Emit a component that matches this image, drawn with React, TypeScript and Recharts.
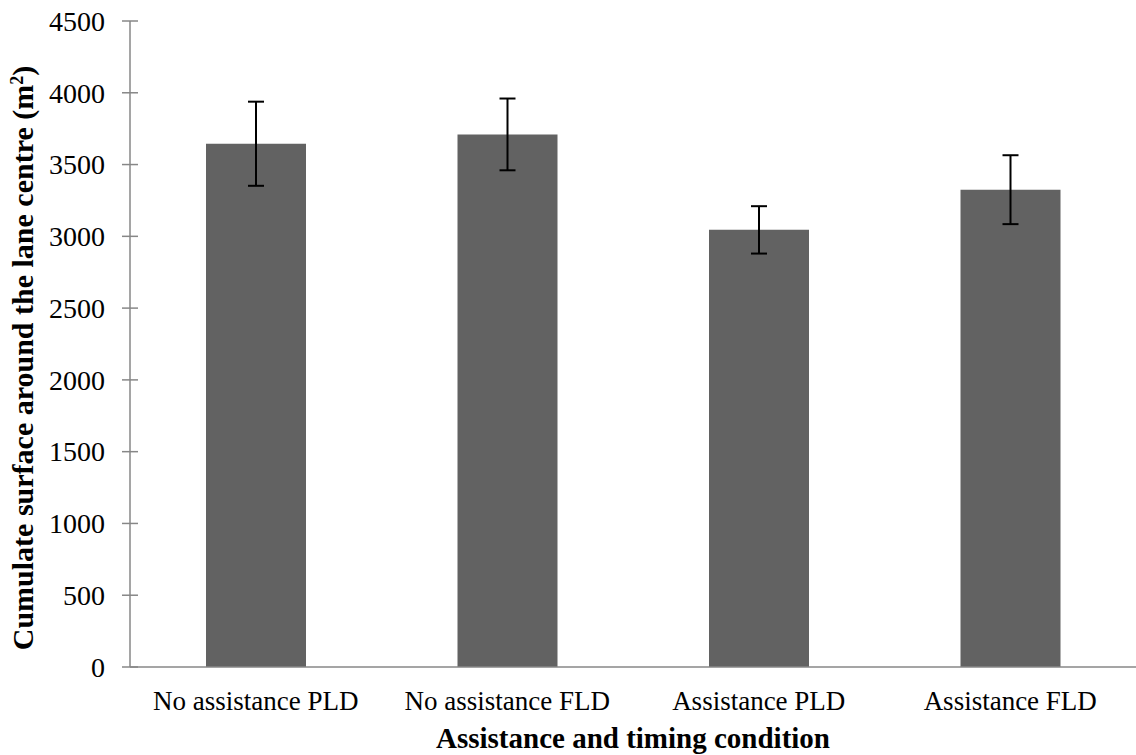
import { BarChart, Bar, XAxis, YAxis, ErrorBar, Label } from 'recharts';

const categories = ['No assistance PLD', 'No assistance FLD', 'Assistance PLD', 'Assistance FLD'];
const surfaceMeans = [3645, 3710, 3045, 3325];
const surfaceErrors = [293, 250, 165, 240];
const yTicks = [0, 500, 1000, 1500, 2000, 2500, 3000, 3500, 4000, 4500];

const data = categories.map((condition, i) => ({
  condition,
  mean: surfaceMeans[i],
  err: surfaceErrors[i],
}));

const FONT = '"Liberation Serif", "Times New Roman", serif';
const AXIS_GREY = '#878787';

// y ticks cross the axis line, like Excel's "cross" tick marks
const YTick = ({ x, y, payload }: any) => (
  <g>
    <line x1={x - 8} x2={x + 8} y1={y} y2={y} stroke={AXIS_GREY} strokeWidth={1.5} />
    <text x={x - 25} y={y} dy="0.35em" textAnchor="end" fontFamily={FONT} fontSize={28} fill="#000">
      {payload.value}
    </text>
  </g>
);

const XTick = ({ x, y, payload }: any) => (
  <text x={x} y={y} dy="0.71em" textAnchor="middle" fontFamily={FONT} fontSize={27} fill="#000">
    {payload.value}
  </text>
);

const YTitle = () => (
  <text
    transform="translate(33, 358) rotate(-90)"
    textAnchor="middle"
    fontFamily={FONT}
    fontWeight="bold"
    fontSize={30}
    fill="#000"
  >
    Cumulate surface around the lane centre (m
    <tspan dy={-10} fontSize={18}>2</tspan>
    <tspan dy={10}>)</tspan>
  </text>
);

const XTitle = () => (
  <text x={633} y={748} textAnchor="middle" fontFamily={FONT} fontWeight="bold" fontSize={29} fill="#000">
    Assistance and timing condition
  </text>
);

export default function App() {
  return (
    <div style={{ width: 1136, height: 755, background: '#fff' }}>
      <style>{'body{margin:0}'}</style>
      <BarChart
        width={1136}
        height={755}
        data={data}
        margin={{ top: 21, right: 0, left: 0, bottom: 0 }}
        barSize={100}
      >
        <XAxis
          dataKey="condition"
          height={88}
          tickLine={false}
          tickSize={0}
          tickMargin={24}
          axisLine={{ stroke: AXIS_GREY, strokeWidth: 1.5 }}
          tick={<XTick />}
          interval={0}
        >
          <Label content={<XTitle />} />
        </XAxis>
        <YAxis
          width={130}
          domain={[0, 4500]}
          ticks={yTicks}
          interval={0}
          tickLine={false}
          tickSize={0}
          tickMargin={0}
          axisLine={{ stroke: AXIS_GREY, strokeWidth: 1.5 }}
          tick={<YTick />}
        >
          <Label content={<YTitle />} />
        </YAxis>
        <Bar dataKey="mean" fill="#626262" isAnimationActive={false}>
          <ErrorBar dataKey="err" width={8} stroke="#000" strokeWidth={2} direction="y" />
        </Bar>
      </BarChart>
    </div>
  );
}
